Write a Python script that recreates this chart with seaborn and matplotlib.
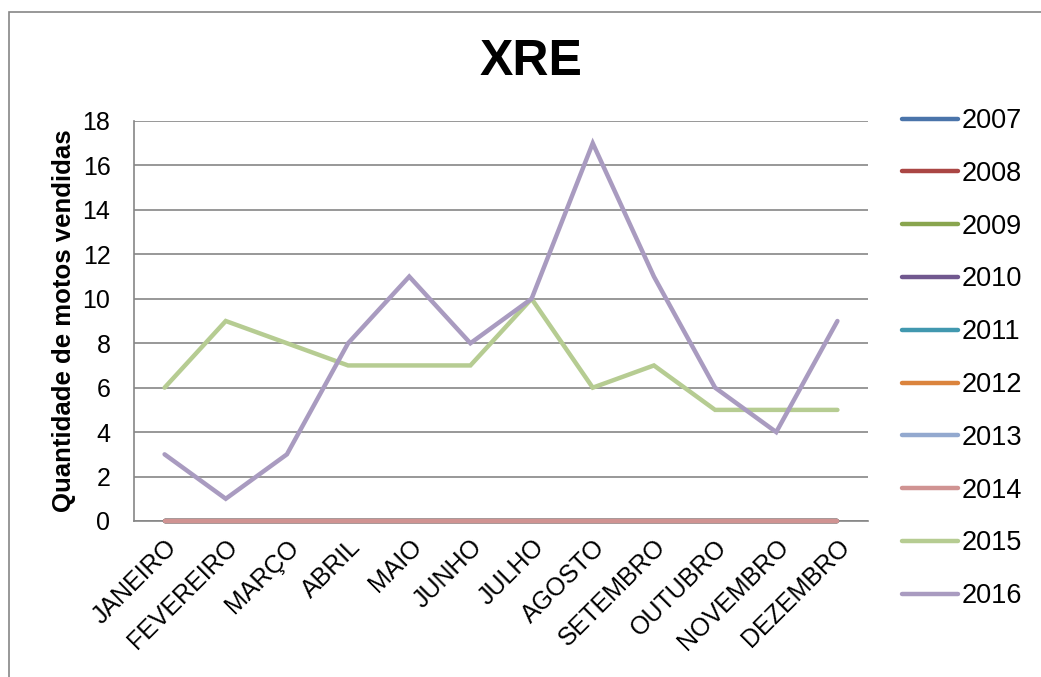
import matplotlib
matplotlib.use("Agg")
import matplotlib.pyplot as plt
import seaborn as sns
import pandas as pd
from matplotlib.patches import Rectangle

months = ["JANEIRO", "FEVEREIRO", "MARÇO", "ABRIL", "MAIO", "JUNHO",
          "JULHO", "AGOSTO", "SETEMBRO", "OUTUBRO", "NOVEMBRO", "DEZEMBRO"]
years = ["2007", "2008", "2009", "2010", "2011", "2012", "2013", "2014", "2015", "2016"]
v2007 = [0] * 12
v2008 = [0] * 12
v2009 = [0] * 12
v2010 = [0] * 12
v2011 = [0] * 12
v2012 = [0] * 12
v2013 = [0] * 12
v2014 = [0] * 12
v2015 = [6, 9, 8, 7, 7, 7, 10, 6, 7, 5, 5, 5]
v2016 = [3, 1, 3, 8, 11, 8, 10, 17, 11, 6, 4, 9]
series = [v2007, v2008, v2009, v2010, v2011, v2012, v2013, v2014, v2015, v2016]
colors = ["#4A74AA", "#AA4644", "#89A54E", "#71588F", "#4198AF", "#DB843D",
          "#93A9CF", "#D09392", "#B6CC92", "#A99BC0"]
yticks = [0, 2, 4, 6, 8, 10, 12, 14, 16, 18]

rows = []
for y, vals in zip(years, series):
    for i, (m, v) in enumerate(zip(months, vals)):
        rows.append({"pos": i, "month": m, "year": y, "value": v})
df = pd.DataFrame(rows)

sns.set_theme(style="white")
plt.rcParams['font.family'] = ['Liberation Sans', 'DejaVu Sans']
plt.rcParams['text.color'] = 'black'
plt.rcParams['xtick.color'] = 'black'
plt.rcParams['ytick.color'] = 'black'
plt.rcParams['axes.labelcolor'] = 'black'

fig = plt.figure(figsize=(10.41, 6.77), dpi=100)
ax = fig.add_axes([134/1041, 1 - 521/677, (868-134)/1041, (521-121)/677])

sns.lineplot(data=df, x="pos", y="value", hue="year", hue_order=years,
             palette=colors, linewidth=3.2, ax=ax, sort=False,
             solid_capstyle="round", solid_joinstyle="miter", legend=True)
for ln in ax.lines:
    ln.set_clip_on(False)
    ln.set_zorder(3)

ax.set_xlim(-0.5, 11.5)
ax.set_ylim(0, 18)
ax.set_yticks(yticks)
ax.set_yticklabels([str(t) for t in yticks], fontsize=18)
ax.set_xticks(range(12))
ax.set_xticklabels(months, fontsize=18, rotation=45, ha="right",
                   rotation_mode="anchor")
ax.tick_params(axis="x", length=0, pad=10)
ax.tick_params(axis="y", length=6, width=1.2, color="#868686", direction="out",
               pad=11, labelcolor="black")
ax.yaxis.grid(True, color="#868686", linewidth=1.2)
ax.set_axisbelow(True)
for s in ["top", "right"]:
    ax.spines[s].set_visible(False)
ax.spines["left"].set_color("#868686")
ax.spines["left"].set_linewidth(1.2)
ax.spines["bottom"].set_color("#868686")
ax.spines["bottom"].set_linewidth(1.2)
ax.set_xlabel("")
ax.set_ylabel("Quantidade de motos vendidas", fontsize=18.5, fontweight="bold", labelpad=5)

handles, labels = ax.get_legend_handles_labels()
ax.get_legend().remove()
for h in handles:
    h.set_linewidth(3.2)
    h.set_solid_capstyle("round")
leg = fig.legend(handles, labels, loc="upper left", bbox_to_anchor=(902/1041, 1 - 108/677),
                 frameon=False, fontsize=19.5, handlelength=2.05, handletextpad=0.14,
                 labelspacing=0.99, borderaxespad=0, borderpad=0)

fig.text(0.51, 1 - 62/677, "XRE", ha="center", va="center", fontsize=36, fontweight="bold")

fig.patches.append(Rectangle((9/1041, -0.05), 1.2, 1 - 12/677 + 0.05, transform=fig.transFigure,
                             fill=False, edgecolor="#868686", linewidth=1.2))

fig.savefig("out.png", dpi=100)
